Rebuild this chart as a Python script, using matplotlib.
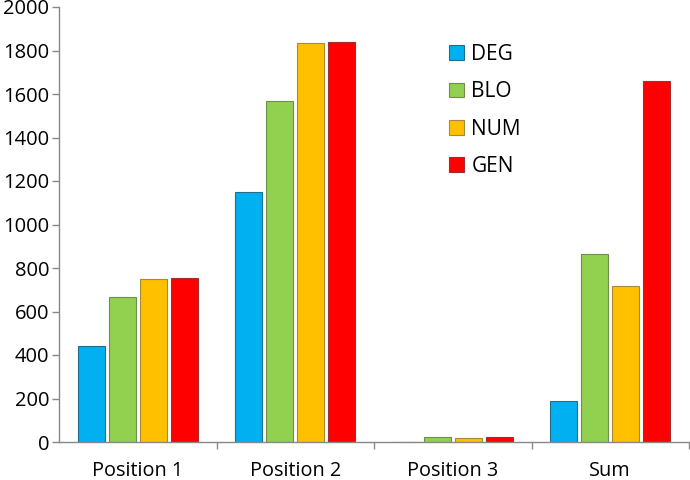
import matplotlib
matplotlib.use("Agg")
import matplotlib.pyplot as plt
import numpy as np

plt.rcParams['font.family'] = ['Open Sans', 'DejaVu Sans']

groups = ["Position 1", "Position 2", "Position 3", "Sum"]
series = ["DEG", "BLO", "NUM", "GEN"]
deg = [441, 1150, 0, 187]
blo = [665, 1570, 24, 863]
num = [748, 1833, 17, 719]
gen = [755, 1838, 24, 1660]

colors = ["#00B0F0", "#92D050", "#FFC000", "#FF0000"]
edges = ["#1F6E8C", "#6E8E4A", "#A58A3A", "#A03030"]

fig = plt.figure(figsize=(6.9, 4.8), dpi=100)
ax = fig.add_axes([59 / 690, 38 / 480, 630 / 690, 435 / 480])

# grouped bars, one slot per series inside each group
x = np.arange(len(groups)) + 0.5
slot = 0.197
width = 0.173
for i, (name, vals) in enumerate(zip(series, [deg, blo, num, gen])):
    ax.bar(x + (i - 1.5) * slot, vals, width, color=colors[i],
           edgecolor=edges[i], linewidth=0.8, label=name)

ax.set_xlim(0, 4)
ax.set_ylim(0, 2000)
ax.set_yticks(np.arange(0, 2001, 200))
ax.set_xticks(x)
ax.set_xticklabels(groups)
ax.set_xticks([1, 2, 3, 4], minor=True)
ax.tick_params(axis='x', which='major', length=0, pad=14, labelsize=14.3)
ax.tick_params(axis='x', which='minor', length=5, color='#888888', width=1)
ax.tick_params(axis='y', length=5, color='#888888', width=1, labelsize=14.5, pad=2)

for s in ['top', 'right']:
    ax.spines[s].set_visible(False)
for s in ['left', 'bottom']:
    ax.spines[s].set_color('#888888')
    ax.spines[s].set_linewidth(1)

ax.legend(loc='upper left', bbox_to_anchor=(0.59, 0.958), frameon=False,
          fontsize=15, handlelength=0.7, handleheight=0.7,
          labelspacing=0.78, handletextpad=0.35)

fig.savefig("out.png", dpi=100)
